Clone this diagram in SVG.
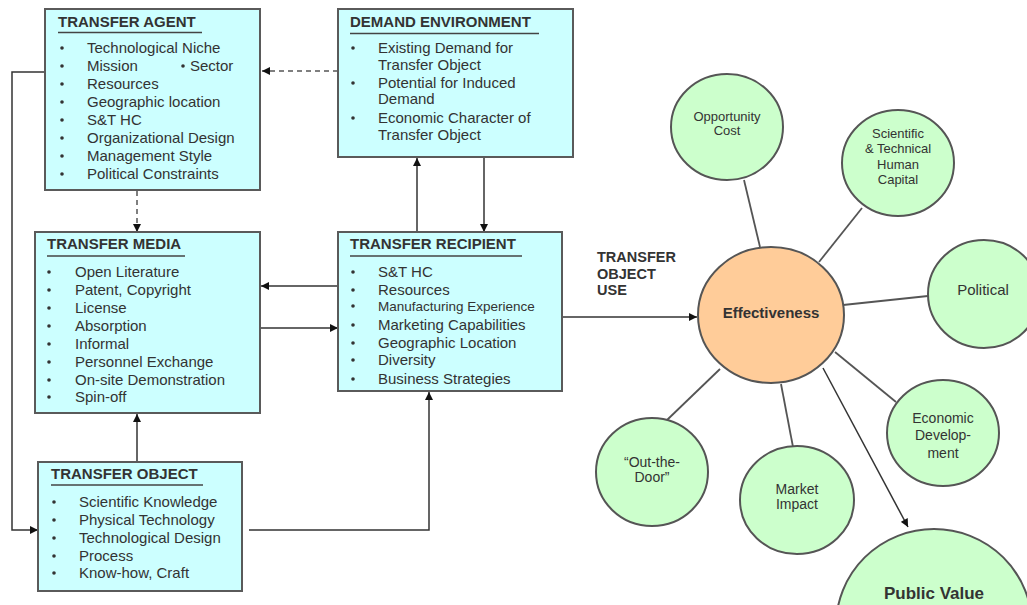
<svg xmlns="http://www.w3.org/2000/svg" width="1027" height="605" viewBox="0 0 1027 605">
<defs>
<marker id="ah" viewBox="0 0 10 10" refX="10" refY="5" markerWidth="9" markerHeight="8" markerUnits="userSpaceOnUse" orient="auto">
<path d="M0,0 L10,5 L0,10 z" fill="#111"/>
</marker>
<style>
.box{fill:#CCFFFF;stroke:#5a5a5a;stroke-width:2}
.t{font-family:"Liberation Sans",Arial,sans-serif;font-size:15px;fill:#333}
.h{font-family:"Liberation Sans",Arial,sans-serif;font-size:15px;font-weight:bold;fill:#333}
.ul{stroke:#444;stroke-width:1.5}
.b{fill:#333}
.c{fill:#CCFFCC;stroke:#555;stroke-width:2}
.e{fill:#FFCC99;stroke:#555;stroke-width:2}
.ct{font-family:"Liberation Sans",Arial,sans-serif;font-size:14px;fill:#333;text-anchor:middle}
.cn{fill:none;stroke:#333;stroke-width:1.5}
.cd{fill:none;stroke:#555;stroke-width:1.5;stroke-dasharray:5,4}
.sp{fill:none;stroke:#555;stroke-width:1.8}
</style>
</defs>
<rect width="1027" height="605" fill="#fff"/>

<g id="connectors">
<path class="cd" d="M338,71 L262,71" marker-end="url(#ah)"/>
<path class="cd" d="M137,191 L137,232" marker-end="url(#ah)"/>
<path class="cn" d="M45,72 L12,72 L12,530 L38,530" marker-end="url(#ah)"/>
<path class="cn" d="M137,462 L137,414" marker-end="url(#ah)"/>
<path class="cn" d="M249,530 L429,530 L429,392" marker-end="url(#ah)"/>
<path class="cn" d="M417,232 L417,158" marker-end="url(#ah)"/>
<path class="cn" d="M484,157 L484,232" marker-end="url(#ah)"/>
<path class="cn" d="M338,286 L261,286" marker-end="url(#ah)"/>
<path class="cn" d="M260,328 L338,328" marker-end="url(#ah)"/>
<path class="cn" d="M562,317 L697,317" marker-end="url(#ah)"/>
<path class="sp" d="M760,247 L744,180"/>
<path class="sp" d="M819,262 L862,208"/>
<path class="sp" d="M843,305 L928,296"/>
<path class="sp" d="M720,369 L667,420"/>
<path class="sp" d="M781,384 L793,447"/>
<path class="sp" d="M835,352 L896,402"/>
<path class="cn" d="M823,368 L908,527" marker-end="url(#ah)"/>
</g>

<g id="transfer-agent">
<rect class="box" x="45" y="9" width="215" height="181"/>
<text class="h" x="58" y="27">TRANSFER AGENT</text>
<line class="ul" x1="58" y1="32.5" x2="202" y2="32.5"/>
<circle class="b" cx="62" cy="48" r="1.8"/><text class="t" x="87" y="53">Technological Niche</text>
<circle class="b" cx="62" cy="66" r="1.8"/><text class="t" x="87" y="71">Mission</text>
<circle class="b" cx="183" cy="66" r="1.8"/><text class="t" x="190" y="71">Sector</text>
<circle class="b" cx="62" cy="84" r="1.8"/><text class="t" x="87" y="89">Resources</text>
<circle class="b" cx="62" cy="102" r="1.8"/><text class="t" x="87" y="107">Geographic location</text>
<circle class="b" cx="62" cy="120" r="1.8"/><text class="t" x="87" y="125">S&amp;T HC</text>
<circle class="b" cx="62" cy="138" r="1.8"/><text class="t" x="87" y="143">Organizational Design</text>
<circle class="b" cx="62" cy="156" r="1.8"/><text class="t" x="87" y="161">Management Style</text>
<circle class="b" cx="62" cy="174" r="1.8"/><text class="t" x="87" y="179">Political Constraints</text>
</g>

<g id="demand-environment">
<rect class="box" x="338" y="9" width="235" height="148"/>
<text class="h" x="350" y="27">DEMAND ENVIRONMENT</text>
<line class="ul" x1="350" y1="33.5" x2="539" y2="33.5"/>
<circle class="b" cx="353" cy="48" r="1.8"/><text class="t" x="378" y="53">Existing Demand for</text>
<text class="t" x="378" y="70">Transfer Object</text>
<circle class="b" cx="353" cy="83" r="1.8"/><text class="t" x="378" y="88">Potential for Induced</text>
<text class="t" x="378" y="104">Demand</text>
<circle class="b" cx="353" cy="118" r="1.8"/><text class="t" x="378" y="123">Economic Character of</text>
<text class="t" x="378" y="140">Transfer Object</text>
</g>

<g id="transfer-media">
<rect class="box" x="35" y="232" width="225" height="181"/>
<text class="h" x="47" y="249">TRANSFER MEDIA</text>
<line class="ul" x1="47" y1="256" x2="185" y2="256"/>
<circle class="b" cx="49" cy="272" r="1.8"/><text class="t" x="75" y="277">Open Literature</text>
<circle class="b" cx="49" cy="290" r="1.8"/><text class="t" x="75" y="295">Patent, Copyright</text>
<circle class="b" cx="49" cy="308" r="1.8"/><text class="t" x="75" y="313">License</text>
<circle class="b" cx="49" cy="326" r="1.8"/><text class="t" x="75" y="331">Absorption</text>
<circle class="b" cx="49" cy="344" r="1.8"/><text class="t" x="75" y="349">Informal</text>
<circle class="b" cx="49" cy="362" r="1.8"/><text class="t" x="75" y="367">Personnel Exchange</text>
<circle class="b" cx="49" cy="380" r="1.8"/><text class="t" x="75" y="385">On-site Demonstration</text>
<circle class="b" cx="49" cy="397" r="1.8"/><text class="t" x="75" y="402">Spin-off</text>
</g>

<g id="transfer-recipient">
<rect class="box" x="338" y="232" width="224" height="159"/>
<text class="h" x="350" y="249">TRANSFER RECIPIENT</text>
<line class="ul" x1="350" y1="256" x2="522" y2="256"/>
<circle class="b" cx="353" cy="272" r="1.8"/><text class="t" x="378" y="277">S&amp;T HC</text>
<circle class="b" cx="353" cy="290" r="1.8"/><text class="t" x="378" y="295">Resources</text>
<circle class="b" cx="353" cy="306" r="1.8"/><text class="t" x="378" y="311" style="font-size:13.5px">Manufacturing Experience</text>
<circle class="b" cx="353" cy="325" r="1.8"/><text class="t" x="378" y="330">Marketing Capabilities</text>
<circle class="b" cx="353" cy="343" r="1.8"/><text class="t" x="378" y="348">Geographic Location</text>
<circle class="b" cx="353" cy="360" r="1.8"/><text class="t" x="378" y="365">Diversity</text>
<circle class="b" cx="353" cy="379" r="1.8"/><text class="t" x="378" y="384">Business Strategies</text>
</g>

<g id="transfer-object">
<rect class="box" x="38" y="462" width="204" height="129"/>
<text class="h" x="51" y="479">TRANSFER OBJECT</text>
<line class="ul" x1="51" y1="485" x2="203" y2="485"/>
<circle class="b" cx="54" cy="502" r="1.8"/><text class="t" x="79" y="507">Scientific Knowledge</text>
<circle class="b" cx="54" cy="520" r="1.8"/><text class="t" x="79" y="525">Physical Technology</text>
<circle class="b" cx="54" cy="538" r="1.8"/><text class="t" x="79" y="543">Technological Design</text>
<circle class="b" cx="54" cy="556" r="1.8"/><text class="t" x="79" y="561">Process</text>
<circle class="b" cx="54" cy="573" r="1.8"/><text class="t" x="79" y="578">Know-how, Craft</text>
</g>

<g id="transfer-object-use">
<text class="h" x="597" y="262" style="font-size:14.5px">TRANSFER</text>
<text class="h" x="597" y="279" style="font-size:14.5px">OBJECT</text>
<text class="h" x="597" y="295" style="font-size:14.5px">USE</text>
</g>

<g id="effectiveness">
<ellipse class="e" cx="771" cy="315" rx="73" ry="68"/>
<text class="ct" x="771" y="318" style="font-weight:bold;font-size:15px">Effectiveness</text>
</g>

<g id="opportunity-cost">
<ellipse class="c" cx="727" cy="127" rx="56" ry="53"/>
<text class="ct" x="727" y="121" style="font-size:13px">Opportunity</text>
<text class="ct" x="727" y="135" style="font-size:13px">Cost</text>
</g>

<g id="st-human-capital">
<ellipse class="c" cx="898" cy="163" rx="56" ry="53"/>
<text class="ct" x="898" y="138" style="font-size:13px">Scientific</text>
<text class="ct" x="898" y="153" style="font-size:13px">&amp; Technical</text>
<text class="ct" x="898" y="169" style="font-size:13px">Human</text>
<text class="ct" x="898" y="184" style="font-size:13px">Capital</text>
</g>

<g id="political">
<ellipse class="c" cx="984" cy="294" rx="56" ry="54"/>
<text class="ct" x="983" y="295" style="font-size:15px">Political</text>
</g>

<g id="out-the-door">
<ellipse class="c" cx="652" cy="472" rx="56" ry="54"/>
<text class="ct" x="652" y="467">“Out-the-</text>
<text class="ct" x="652" y="482">Door”</text>
</g>

<g id="market-impact">
<ellipse class="c" cx="797" cy="500" rx="57" ry="54"/>
<text class="ct" x="797" y="494">Market</text>
<text class="ct" x="797" y="509">Impact</text>
</g>

<g id="economic-development">
<ellipse class="c" cx="943" cy="433" rx="56" ry="53"/>
<text class="ct" x="943" y="423">Economic</text>
<text class="ct" x="943" y="440">Develop-</text>
<text class="ct" x="943" y="458">ment</text>
</g>

<g id="public-value">
<ellipse class="c" cx="934" cy="626" rx="98" ry="97"/>
<text class="ct" x="934" y="599" style="font-weight:bold;font-size:17px">Public Value</text>
</g>
</svg>
